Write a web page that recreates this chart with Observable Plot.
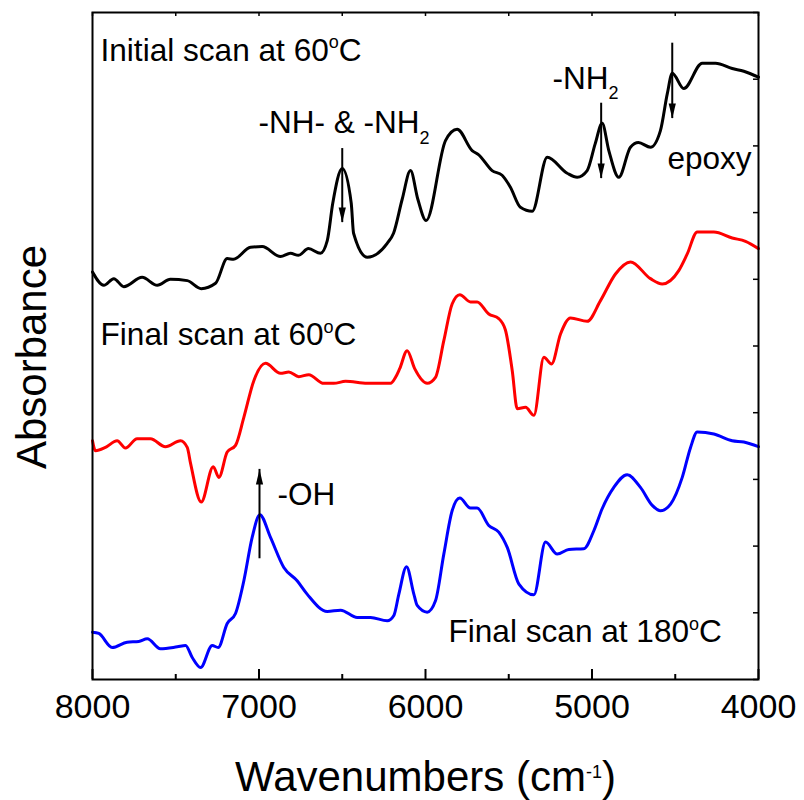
<!DOCTYPE html>
<html><head><meta charset="utf-8">
<script src="https://cdn.jsdelivr.net/npm/d3@7"></script>
<script src="https://cdn.jsdelivr.net/npm/@observablehq/plot@0.6"></script>
<style>body{margin:0;background:#fff}</style>
</head><body><div id="chart"></div>
<script>
// ---- data (wavenumber in cm-1, absorbance in arbitrary offset units) ----
const initialWn  = [8000,7932,7872,7812,7702,7611,7532,7431,7347,7261,7191,7153,7051,6981,6871,6811,6763,6703,6631,6590,6557,6500,6446,6432,6350,6230,6192,6140,6090,6046,5996,5880,5810,5720,5682,5600,5540,5490,5430,5359,5269,5149,5089,5029,4981,4939,4899,4839,4769,4721,4649,4589,4548,4518,4449,4338,4258,4158,4088,4000];
const initialAbs = [6.11,5.91,6.01,5.89,6.03,5.91,6.00,5.98,5.86,5.94,6.31,6.30,6.48,6.49,6.34,6.39,6.36,6.46,6.39,6.58,7.14,7.66,7.14,6.69,6.33,6.54,6.69,7.20,7.63,7.20,6.88,8.08,8.25,7.93,7.87,7.63,7.56,7.38,7.08,7.02,7.83,7.59,7.53,7.63,8.03,8.34,7.93,7.53,7.98,8.05,7.98,8.23,8.78,9.09,8.86,9.24,9.24,9.16,9.12,9.03];

const final60Wn  = [8000,7982,7922,7852,7802,7732,7652,7562,7471,7431,7411,7347,7275,7241,7191,7141,7091,7031,6961,6871,6821,6761,6701,6611,6551,6480,6350,6210,6180,6155,6110,6065,5990,5940,5890,5840,5794,5730,5690,5620,5560,5520,5479,5449,5399,5349,5289,5243,5189,5129,5029,4949,4859,4769,4649,4578,4479,4428,4368,4268,4158,4078,4000];
const final60Abs = [3.58,3.43,3.48,3.58,3.47,3.61,3.61,3.49,3.58,3.48,3.24,2.66,3.19,3.03,3.41,3.51,3.93,4.48,4.74,4.59,4.61,4.54,4.57,4.44,4.44,4.47,4.44,4.44,4.53,4.66,4.93,4.66,4.44,4.53,5.08,5.63,5.77,5.66,5.66,5.48,5.41,5.24,4.63,4.06,4.08,3.96,4.83,4.73,5.18,5.42,5.37,5.68,6.08,6.26,6.01,5.93,6.13,6.38,6.71,6.71,6.62,6.57,6.46];

const final180Wn  = [8000,7962,7882,7792,7722,7671,7592,7491,7441,7401,7351,7281,7245,7191,7141,7091,7041,6995,6931,6851,6771,6711,6590,6510,6410,6330,6230,6190,6160,6114,6070,6050,5990,5940,5890,5840,5794,5730,5690,5620,5560,5509,5439,5349,5279,5209,5139,5049,4989,4939,4869,4789,4709,4638,4589,4528,4458,4408,4368,4268,4158,4088,4000];
const final180Abs = [0.71,0.69,0.48,0.56,0.57,0.61,0.46,0.49,0.51,0.33,0.18,0.51,0.48,0.84,0.99,1.48,2.13,2.47,2.13,1.68,1.48,1.28,1.02,1.04,0.93,0.93,0.88,0.96,1.28,1.69,1.28,1.11,1.01,1.18,1.88,2.53,2.72,2.57,2.57,2.31,2.21,1.98,1.43,1.27,2.06,1.88,1.95,1.96,2.23,2.56,2.88,3.07,2.88,2.61,2.53,2.63,3.03,3.48,3.71,3.68,3.58,3.56,3.49];

const xMajorTicks = [8000,7000,6000,5000,4000];
const xMinorTicks = [7500,6500,5500,4500];
const yTicks = [0,1,2,3,4,5,6,7,8,9,10];

// curve labels and peak annotations (position in data coordinates)
const curveLabels = [
  {label: "Initial scan at 60°C", x: 7952, y: 9.28},
  {label: "Final scan at 60°C",   x: 7952, y: 5.01},
  {label: "Final scan at 180°C",  x: 5862, y: 0.555}
];
const peakLabels = [
  {label: "-NH- & -NH2", x: 7003, y: 8.19},
  {label: "-NH2",        x: 5237, y: 8.86},
  {label: "epoxy",       x: 4547, y: 7.66},
  {label: "-OH",         x: 6889, y: 2.61}
];
const downArrows = [
  {x: 6500, y1: 7.96, y2: 6.85},
  {x: 4945, y1: 8.64, y2: 7.51},
  {x: 4518, y1: 9.54, y2: 8.41}
];
const upArrows = [
  {x: 6997, y1: 1.81, y2: 3.15}
];

const toRows = (wn, ab) => wn.map((w, i) => ({wn: w, abs: ab[i]}));
const initial = toRows(initialWn, initialAbs);
const final60 = toRows(final60Wn, final60Abs);
const final180 = toRows(final180Wn, final180Abs);

const head = {draw(ctx) { ctx.moveTo(0, 0); ctx.lineTo(-3.6, -15); ctx.lineTo(3.6, -15); ctx.closePath(); }};

const W = 804, H = 800, mL = 92, mR = 46, mT = 12, mB = 121;
const pw = W - mL - mR, ph = H - mT - mB;

const plot = Plot.plot({
  width: W, height: H,
  marginLeft: mL, marginRight: mR, marginTop: mT, marginBottom: mB,
  style: {fontFamily: "'Liberation Sans', Arial, sans-serif", fontSize: "34px", color: "black", background: "white"},
  x: {domain: [8000, 4000]},
  y: {domain: [0, 10], axis: null},
  marks: [
    Plot.line(initial,  {x: "wn", y: "abs", stroke: "#000000", strokeWidth: 3, curve: "monotone-x"}),
    Plot.line(final60,  {x: "wn", y: "abs", stroke: "#ff0000", strokeWidth: 3, curve: "monotone-x"}),
    Plot.line(final180, {x: "wn", y: "abs", stroke: "#0000ff", strokeWidth: 3, curve: "monotone-x"}),
    Plot.ruleX(downArrows, {x: "x", y1: "y1", y2: "y2", stroke: "black", strokeWidth: 2}),
    Plot.ruleX(upArrows, {x: "x", y1: "y1", y2: "y2", stroke: "black", strokeWidth: 2}),
    Plot.dot(downArrows, {x: "x", y: "y2", symbol: head, fill: "black", stroke: null}),
    Plot.dot(upArrows, {x: "x", y: "y2", symbol: head, fill: "black", stroke: null, rotate: 180}),
    Plot.text(curveLabels, {x: "x", y: "y", text: "label", textAnchor: "start", lineAnchor: "bottom", fontSize: 31.6, fill: "black"}),
    Plot.text(peakLabels, {x: "x", y: "y", text: "label", textAnchor: "start", lineAnchor: "bottom", fontSize: 31.5, fill: "black"}),
    Plot.tickX(xMajorTicks, {x: d => d, insetTop: ph - 10, strokeWidth: 2}),
    Plot.tickX(xMinorTicks, {x: d => d, insetTop: ph - 5, strokeWidth: 2}),
    Plot.tickX(xMajorTicks.concat(xMinorTicks), {x: d => d, insetBottom: ph - 4, strokeWidth: 1.5}),
    Plot.tickY(yTicks, {y: d => d, insetLeft: pw - 5, strokeWidth: 1.5}),
    Plot.axisX(xMajorTicks, {tickSize: 0, tickPadding: 14, tickFormat: d => String(d), label: null, fontSize: 34}),
    Plot.text(["Wavenumbers (cm-1)"], {frameAnchor: "bottom", textAnchor: "middle", lineAnchor: "bottom", dy: 111, fontSize: 42, fill: "black"}),
    Plot.text(["Absorbance"], {frameAnchor: "left", textAnchor: "middle", rotate: -90, lineAnchor: "bottom", dx: -47, dy: 11, fontSize: 42, fill: "black"}),
    Plot.frame({stroke: "black", strokeWidth: 2})
  ]
});

// rich text: superscripts / subscripts
const rich = {
  "Initial scan at 60°C": [["Initial scan at 60"], ["o", "sup"], ["C"]],
  "Final scan at 60°C":   [["Final scan at 60"], ["o", "sup"], ["C"]],
  "Final scan at 180°C":  [["Final scan at 180"], ["o", "sup"], ["C"]],
  "-NH- & -NH2":          [["-NH- & -NH"], ["2", "sub"]],
  "-NH2":                 [["-NH"], ["2", "sub"]],
  "Wavenumbers (cm-1)":   [["Wavenumbers (cm"], ["-1", "sup"], [")"]]
};
const NS = "http://www.w3.org/2000/svg";
plot.querySelectorAll("text").forEach(t => {
  const parts = rich[t.textContent];
  if (!parts) return;
  const fs = parseFloat(getComputedStyle(t).fontSize) || 30;
  t.textContent = "";
  let shift = 0;
  parts.forEach(([s, kind]) => {
    const ts = document.createElementNS(NS, "tspan");
    ts.textContent = s;
    let target = 0;
    if (kind === "sup") { target = -0.42 * fs; ts.setAttribute("font-size", (0.6 * fs) + "px"); }
    if (kind === "sub") { target = 0.36 * fs; ts.setAttribute("font-size", (0.6 * fs) + "px"); }
    const dy = target - shift;
    if (dy !== 0) ts.setAttribute("dy", dy + "px");
    shift = target;
    t.appendChild(ts);
  });
});

document.getElementById("chart").appendChild(plot);
</script>
</body></html>
